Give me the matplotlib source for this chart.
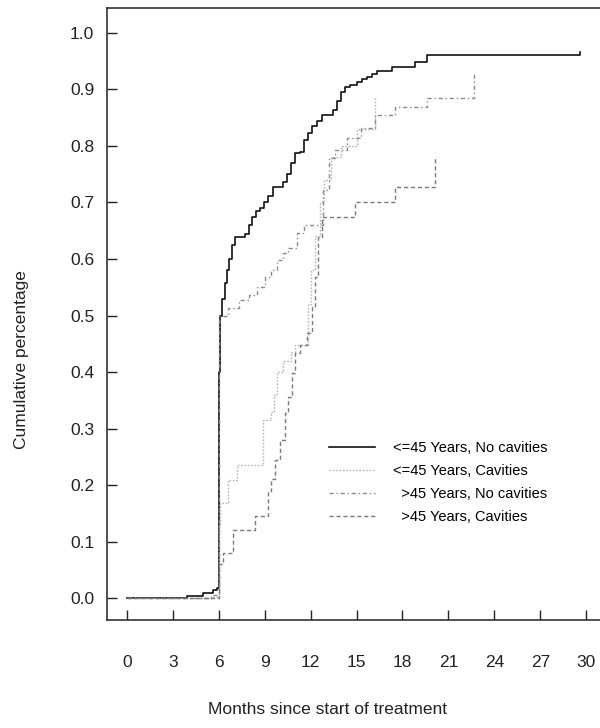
import matplotlib
matplotlib.use("Agg")
import matplotlib.pyplot as plt

plt.rcParams['font.family'] = ['Liberation Sans', 'DejaVu Sans']

# ---- data (months, cumulative proportion) ----
young_nocav_m = [0, 3.9, 5.0, 5.6, 5.9, 6.0, 6.08, 6.2, 6.4, 6.55, 6.67, 6.86, 7.06, 7.7, 7.97,
                 8.17, 8.43, 8.7, 8.95, 9.2, 9.54, 10.2, 10.46, 10.7, 10.98, 11.3, 11.57, 11.83,
                 12.1, 12.4, 12.75, 13.46, 13.7, 13.99, 14.25, 14.6, 15.03, 15.36, 15.7, 16.0,
                 16.34, 17.3, 18.8, 19.6, 29.6]
young_nocav_v = [0.0, 0.004, 0.009, 0.014, 0.018, 0.40, 0.50, 0.53, 0.557, 0.58, 0.60, 0.625, 0.639,
                 0.645, 0.66, 0.675, 0.685, 0.69, 0.70, 0.712, 0.727, 0.736, 0.75, 0.77, 0.787, 0.79,
                 0.81, 0.823, 0.835, 0.845, 0.855, 0.864, 0.88, 0.895, 0.905, 0.908, 0.913, 0.918,
                 0.922, 0.928, 0.933, 0.94, 0.949, 0.961, 0.967]

young_cav_m = [0, 5.5, 6.0, 6.1, 6.6, 7.2, 8.9, 9.4, 9.6, 9.8, 10.2, 10.7, 11.0, 11.8, 12.0, 12.3,
               12.6, 12.9, 13.3, 14.0, 15.0, 16.2]
young_cav_v = [0.0, 0.003, 0.13, 0.168, 0.209, 0.235, 0.315, 0.33, 0.36, 0.40, 0.42, 0.435, 0.448,
               0.52, 0.58, 0.64, 0.70, 0.74, 0.78, 0.80, 0.83, 0.887]

old_nocav_m = [0, 5.5, 6.0, 6.05, 6.6, 7.3, 8.0, 8.5, 9.0, 9.4, 9.8, 10.2, 10.5, 11.1, 11.6, 12.8,
               13.2, 13.6, 14.4, 15.3, 16.2, 17.5, 19.6, 22.7]
old_nocav_v = [0.0, 0.005, 0.45, 0.50, 0.513, 0.527, 0.536, 0.55, 0.568, 0.58, 0.598, 0.61, 0.62,
               0.646, 0.66, 0.722, 0.779, 0.793, 0.814, 0.832, 0.855, 0.869, 0.885, 0.93]

old_cav_m = [0, 6.0, 6.3, 6.9, 8.4, 9.2, 9.4, 9.7, 10.0, 10.33, 10.5, 10.8, 11.0, 11.3, 11.76,
             12.1, 12.3, 12.5, 12.75, 14.9, 17.5, 20.1]
old_cav_v = [0.0, 0.06, 0.08, 0.12, 0.145, 0.19, 0.21, 0.245, 0.28, 0.327, 0.356, 0.398, 0.434,
             0.448, 0.469, 0.515, 0.568, 0.639, 0.674, 0.70, 0.727, 0.78]

labels = ["<=45 Years, No cavities", "<=45 Years, Cavities",
          "  >45 Years, No cavities", "  >45 Years, Cavities"]
x_ticks = [0, 3, 6, 9, 12, 15, 18, 21, 24, 27, 30]
y_ticks = [0.0, 0.1, 0.2, 0.3, 0.4, 0.5, 0.6, 0.7, 0.8, 0.9, 1.0]

fig = plt.figure(figsize=(6.0, 7.28), dpi=100)
ax = fig.add_axes([0.178, 0.148, 0.822, 0.841])

ax.step(young_nocav_m, young_nocav_v, where='post', color='#111111', lw=1.2,
        label=labels[0])
ax.step(young_cav_m, young_cav_v, where='post', color='#b5b5b5', lw=1.0,
        linestyle=(0, (1.2, 1.2)), label=labels[1])
ax.step(old_nocav_m, old_nocav_v, where='post', color='#8a8a8a', lw=1.0,
        linestyle=(0, (3, 2, 1, 2)), label=labels[2])
ax.step(old_cav_m, old_cav_v, where='post', color='#7a7a7a', lw=1.0,
        linestyle=(0, (3, 2)), label=labels[3])

ax.set_xlim(-1.31, 30.9)
ax.set_ylim(-0.039, 1.044)
ax.set_xticks(x_ticks)
ax.set_xticklabels([str(t) for t in x_ticks])
ax.set_yticks(y_ticks)
ax.set_yticklabels([f"{t:.1f}" for t in y_ticks])

ax.tick_params(axis='x', direction='in', length=7, width=1.0, pad=25, labelsize=12.5,
               colors='#222222')
ax.tick_params(axis='y', direction='in', length=7, width=1.0, pad=9, labelsize=12.5,
               colors='#222222')

for s in ['left', 'bottom', 'top']:
    ax.spines[s].set_linewidth(1.2)
    ax.spines[s].set_color('#333333')
ax.spines['right'].set_visible(False)

ax.set_xlabel("Months since start of treatment", fontsize=12.5, color='#222222')
ax.xaxis.set_label_coords(0.448, -0.133)
ax.set_ylabel("Cumulative percentage", fontsize=12.5, color='#222222')
ax.yaxis.set_label_coords(-0.158, 0.425)

leg = ax.legend(loc='upper left', bbox_to_anchor=(0.45, 0.293), frameon=False,
                fontsize=10.5, handlelength=3.2, handletextpad=1.2, labelspacing=0.62,
                borderpad=0, borderaxespad=0)

fig.savefig("out.png", dpi=100)
